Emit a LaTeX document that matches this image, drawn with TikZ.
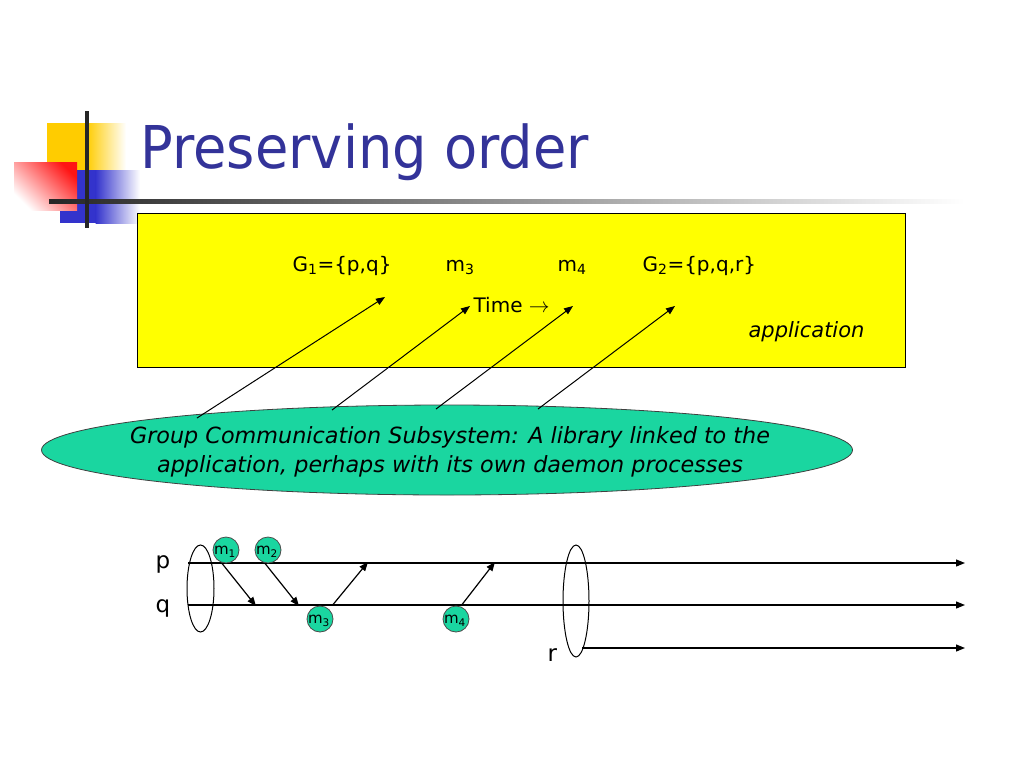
\documentclass[tikz,border=0pt]{standalone}
\usepackage{fontspec}
\usepackage{graphicx}
\setmainfont{DejaVu Sans}
\usetikzlibrary{arrows.meta,shapes.geometric}
\definecolor{titleblue}{RGB}{51,51,153}
\definecolor{gcsgreen}{RGB}{26,214,160}
\definecolor{logoyellow}{RGB}{255,204,0}
\definecolor{logoblue}{RGB}{51,51,204}
\definecolor{logored}{RGB}{255,20,20}
\definecolor{boxyellow}{RGB}{255,255,0}
\begin{document}
\begin{tikzpicture}[x=1pt,y=-1pt,
  line width=1.2pt,
  tip/.style={-{Triangle[length=9pt,width=7pt]}},
  boxtext/.style={anchor=base west,inner sep=0,font=\fontsize{20}{24}\selectfont},
  proclabel/.style={anchor=base west,inner sep=0,font=\fontsize{23}{26}\selectfont},
  msgcircle/.style={circle,draw=black!70,fill=gcsgreen,minimum size=26pt,inner sep=0,line width=0.8pt},
  msgtext/.style={inner sep=0,font=\fontsize{15}{16}\selectfont},
  groupell/.style={ellipse,draw,line width=1pt,inner sep=0}
]
\useasboundingbox (0,0) rectangle (1024,768);
% ---- logo ----
\fill[logoyellow] (47,123) rectangle (87,170);
\shade[left color=logoyellow,right color=white] (86.5,123) rectangle (126,170);
\fill[logoblue] (60,170) rectangle (96,223);
\shade[left color=logoblue,right color=white] (95.5,170) rectangle (140,223);
\shade[top color=logored,bottom color=white,shading angle=-45] (14,162) rectangle (77,210);
\shade[left color=black!85,right color=white] (49,199) rectangle (965,203);
\fill[black!85] (85,111) rectangle (89,228);
% ---- title ----
\node[anchor=base west,inner sep=0,text=titleblue,font=\fontsize{59}{62}\selectfont] (title) at (140,168) {\scalebox{0.92}[1]{Preserving order}};
% ---- application box ----
\node[draw,fill=boxyellow,line width=1pt,minimum width=768pt,minimum height=154pt,anchor=north west,inner sep=0] (app) at (137,213) {};
\node[boxtext] (g1) at (292,271) {G\textsubscript{1}=\{p,q\}};
\node[boxtext] (m3t) at (445,271) {m\textsubscript{3}};
\node[boxtext] (m4t) at (557,271) {m\textsubscript{4}};
\node[boxtext] (g2) at (642,271) {G\textsubscript{2}=\{p,q,r\}};
\node[boxtext] (time) at (473,312) {Time $\rightarrow$};
\node[boxtext,font=\fontsize{21}{24}\selectfont\itshape] (apptext) at (748,337) {application};
% ---- GCS ellipse ----
\node[ellipse,draw=black!75,fill=gcsgreen,line width=0.8pt,minimum width=811pt,minimum height=90pt,inner sep=0] (gcs) at (447,450) {};
\node[align=center,inner sep=0,font=\fontsize{22.3}{29}\selectfont\itshape] (gcstext) at (450,452) {Group Communication Subsystem: A library linked to the\\application, perhaps with its own daemon processes};
\coordinate (s1) at (197,418); \coordinate (e1) at (385,297);
\coordinate (s2) at (332,410); \coordinate (e2) at (470,306);
\coordinate (s3) at (436,409); \coordinate (e3) at (573,306);
\coordinate (s4) at (538,409); \coordinate (e4) at (675,306);
\draw[tip,line width=1pt] (s1) -- (e1);
\draw[tip,line width=1pt] (s2) -- (e2);
\draw[tip,line width=1pt] (s3) -- (e3);
\draw[tip,line width=1pt] (s4) -- (e4);
% ---- timelines ----
\node[proclabel] (plab) at (155,568) {p};
\node[proclabel] (qlab) at (155,612) {q};
\node[proclabel] (rlab) at (547,661) {r};
\coordinate (pS) at (188,563); \coordinate (pE) at (965,563);
\coordinate (qS) at (188,605); \coordinate (qE) at (965,605);
\coordinate (rS) at (582,648); \coordinate (rE) at (965,648);
\draw[tip] (pS) -- (pE);
\draw[tip] (qS) -- (qE);
\draw[tip] (rS) -- (rE);
\node[groupell,minimum width=27pt,minimum height=87pt] (grp1) at (200.5,588.5) {};
\node[groupell,minimum width=26pt,minimum height=112pt] (grp2) at (576,601) {};
% ---- messages ----
\node[msgcircle] (m1) at (226,550) {};
\node[msgcircle] (m2) at (268,550) {};
\node[msgcircle] (m3) at (320,619) {};
\node[msgcircle] (m4) at (456,619) {};
\node[msgtext] at (225,552) {m\textsubscript{1}};
\node[msgtext] at (267,552) {m\textsubscript{2}};
\node[msgtext] at (319,621) {m\textsubscript{3}};
\node[msgtext] at (455,621) {m\textsubscript{4}};
\coordinate (a1) at (256,606); \coordinate (a2) at (299,606);
\coordinate (a3) at (368,562); \coordinate (a4) at (495,562);
\draw[tip] (m1.south) ++(-4,0) coordinate (m1s) (m1s) -- (a1);
\draw[tip] (m2.south) ++(-3,0) coordinate (m2s) (m2s) -- (a2);
\draw[tip] (m3.north) ++(13,-1) coordinate (m3n) (m3n) -- (a3);
\draw[tip] (m4.north) ++(6,-1) coordinate (m4n) (m4n) -- (a4);
\end{tikzpicture}
\end{document}
